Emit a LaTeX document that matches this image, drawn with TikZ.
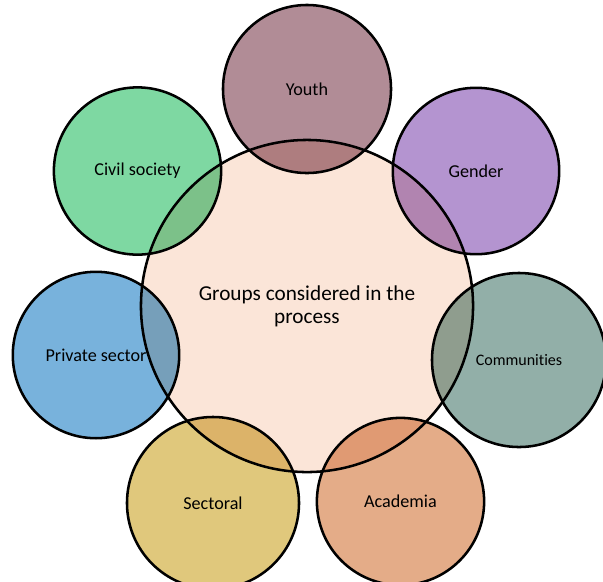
\documentclass[tikz,border=0pt]{standalone}
\usepackage{fontspec}
\setmainfont{Carlito}[Ligatures=NoCommon]
\definecolor{centrefill}{RGB}{251,229,216}
\definecolor{youthfill}{RGB}{177,140,150}
\definecolor{genderfill}{RGB}{180,148,208}
\definecolor{civilfill}{RGB}{126,216,162}
\definecolor{privatefill}{RGB}{120,178,220}
\definecolor{sectoralfill}{RGB}{224,200,124}
\definecolor{academiafill}{RGB}{228,172,136}
\definecolor{communityfill}{RGB}{146,175,168}
\tikzset{
  ring/.style={circle, draw=black, line width=1.8pt, inner sep=0pt, align=center},
  group/.style={ring, font=\fontsize{12.9pt}{15pt}\selectfont},
}

\begin{document}
\begin{tikzpicture}[x=0.025cm, y=-0.025cm]
	%%%%% START %%%%%
	\useasboundingbox (0, 0) rectangle (603, 581);
	
	\node[ring, fill=centrefill, minimum size=8.3cm, font=\fontsize{15.1pt}{16.4pt}\selectfont] (groups) at (307, 306) {Groups considered in the\\process};
	
	\begin{scope}[blend mode=multiply]
	\node[group, fill=youthfill, minimum size=4.2cm] (youth) at (307, 89) {Youth};
	\node[group, fill=civilfill, minimum size=4.18cm] (civil) at (137.5, 171) {Civil society};
	\node[group, fill=genderfill, minimum size=4.16cm] (gender) at (476, 171) {Gender};
	\node[group, fill=privatefill, minimum size=4.16cm] (private) at (96, 355) {Private sector};
	\node[group, fill=communityfill, minimum size=4.35cm, font=\fontsize{11.4pt}{13pt}\selectfont] (communities) at (519, 360) {Communities};
	\node[group, fill=academiafill, minimum size=4.18cm] (academia) at (400.5, 501.5) {Academia};
	\node[group, fill=sectoralfill, minimum size=4.3cm] (sectoral) at (213, 503) {Sectoral};
	\end{scope}
	
	%%%%% END %%%%%
\end{tikzpicture}
\end{document}
